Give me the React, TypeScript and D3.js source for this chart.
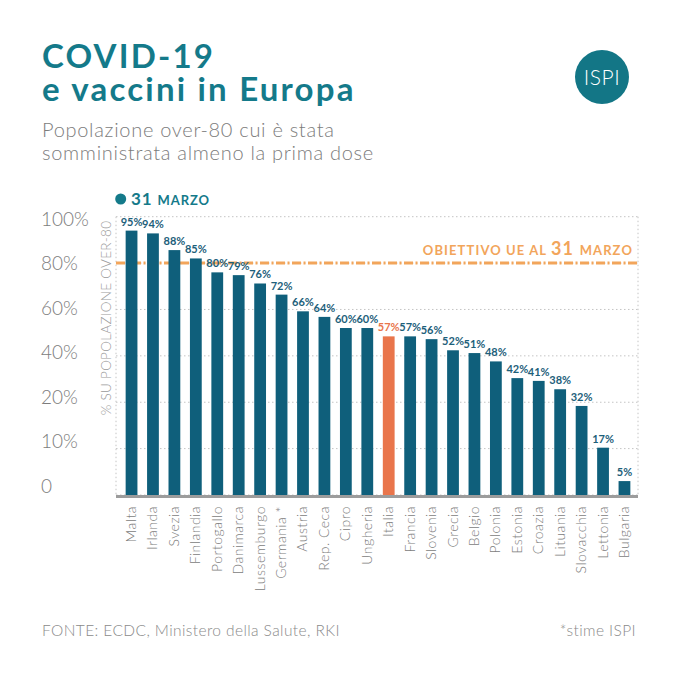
import React from "react";
import * as d3 from "d3";

const countries = ["Malta","Irlanda","Svezia","Finlandia","Portogallo","Danimarca","Lussemburgo","Germania *","Austria","Rep. Ceca","Cipro","Ungheria","Italia","Francia","Slovenia","Grecia","Belgio","Polonia","Estonia","Croazia","Lituania","Slovacchia","Lettonia","Bulgaria"];
const values = [95,94,88,85,80,79,76,72,66,64,60,60,57,57,56,52,51,48,42,41,38,32,17,5];
const highlight = "Italia";
const tickValues = [0, 16.67, 33.33, 50, 66.67, 83.33, 100];
const tickLabels = ["0","10%","20%","40%","60%","80%","100%"];
const targetValue = 83.33;

const TEAL = "#147a8a";
const BAR = "#0f5f7b";
const ORANGE_BAR = "#e9754b";
const ORANGE = "#f2a55b";
const GRAY = "#7c7c7c";
const FONT = "Lato, 'Open Sans', sans-serif";

export default function App() {
  const W = 680, H = 680;
  const x0 = 116, x1 = 638, yBase = 495, yTop = 216.7;
  const x = d3.scaleBand<string>().domain(countries).range([113, 643]).paddingInner(0.45).paddingOuter(0.59);
  const y = d3.scaleLinear().domain([0, 100]).range([yBase, yTop]);
  const yLab = d3.scaleLinear().domain([0, 100]).range([486, 219]);
  const yT = y(targetValue);

  return (
    <svg width={W} height={H} style={{ position: "absolute", left: 0, top: 0, background: "#fff" }} fontFamily={FONT}>
      <rect width={W} height={H} fill="#fff" />
      {/* Title */}
      <text fontSize={33} fontWeight={700} fill={TEAL} letterSpacing={2.2}>
        <tspan x={42} y={68}>COVID-19</tspan>
        <tspan x={42} y={101}>e vaccini in Europa</tspan>
      </text>
      <text fontSize={20} fontWeight={300} fill={GRAY} letterSpacing={0.7}>
        <tspan x={42} y={137}>Popolazione over-80 cui è stata</tspan>
        <tspan x={42} y={160}>somministrata almeno la prima dose</tspan>
      </text>
      {/* Logo */}
      <circle cx={602} cy={77} r={27} fill="#137686" />
      <text x={602} y={84.5} fontSize={21} fontWeight={300} fill="#fff" textAnchor="middle" letterSpacing={0.5}>ISPI</text>

      {/* Legend */}
      <circle cx={120.7} cy={199} r={5.5} fill={TEAL} />
      <text x={131} y={204.5} fill={TEAL} fontWeight={700} letterSpacing={0.9}>
        <tspan fontSize={17}>31 </tspan>
        <tspan fontSize={13}>MARZO</tspan>
      </text>

      {/* Grid */}
      {tickValues.map((t, i) => (
        <line key={"g" + i} x1={x0} x2={x1} y1={y(t)} y2={y(t)} stroke="#c4c4c4" strokeWidth={1} strokeDasharray="1.5,2.5" />
      ))}
      <line x1={x0} x2={x0} y1={yTop} y2={yBase} stroke="#c4c4c4" strokeDasharray="1.5,2.5" />
      <line x1={x1} x2={x1} y1={yTop} y2={yBase} stroke="#c4c4c4" strokeDasharray="1.5,2.5" />

      {/* Y tick labels */}
      {tickValues.map((t, i) => (
        <text key={"t" + i} x={41} y={yLab(t)} dy="0.36em" fontSize={19} fontWeight={300} fill={GRAY}>{tickLabels[i]}</text>
      ))}
      <text transform={`translate(111,318) rotate(-90)`} textAnchor="middle" fontSize={13.5} fontWeight={300} fill="#9a9a9a" letterSpacing={0.3}>% SU POPOLAZIONE OVER-80</text>

      {/* Target line */}
      <line x1={x0} x2={x1} y1={yT} y2={yT} stroke={ORANGE} strokeWidth={3} strokeDasharray="9,2.5,2,2.5" />
      <text x={633} y={255} textAnchor="end" fill={ORANGE} fontWeight={700} letterSpacing={1.1}>
        <tspan fontSize={13}>OBIETTIVO UE AL </tspan>
        <tspan fontSize={18}>31 </tspan>
        <tspan fontSize={13}>MARZO</tspan>
      </text>

      {/* Bars */}
      {countries.map((c, i) => {
        const bx = x(c)!;
        const isH = c === highlight;
        return (
          <g key={c}>
            <rect x={bx} y={y(values[i])} width={x.bandwidth()} height={yBase - y(values[i])} fill={isH ? ORANGE_BAR : BAR} />
            <text x={bx + x.bandwidth() / 2} y={y(values[i]) - 5} textAnchor="middle" fontSize={11} fontWeight={700} fill={isH ? ORANGE_BAR : "#1d607a"}>{values[i]}%</text>
            <text transform={`translate(${bx + x.bandwidth() / 2 + 4.5},506) rotate(-90)`} textAnchor="end" fontSize={14} fontWeight={300} fill={GRAY} letterSpacing={0.5}>{c}</text>
          </g>
        );
      })}
      <line x1={x0} x2={x1} y1={yBase + 1.5} y2={yBase + 1.5} stroke="#9c9c9c" strokeWidth={3} />

      {/* Footer */}
      <text x={42} y={636} fontSize={15.5} fontWeight={300} fill="#8a8a8a" letterSpacing={0.4}>FONTE: ECDC, Ministero della Salute, RKI</text>
      <text x={636} y={636} textAnchor="end" fontSize={15.5} fontWeight={300} fill="#8a8a8a" letterSpacing={0.4}>*stime ISPI</text>
    </svg>
  );
}
